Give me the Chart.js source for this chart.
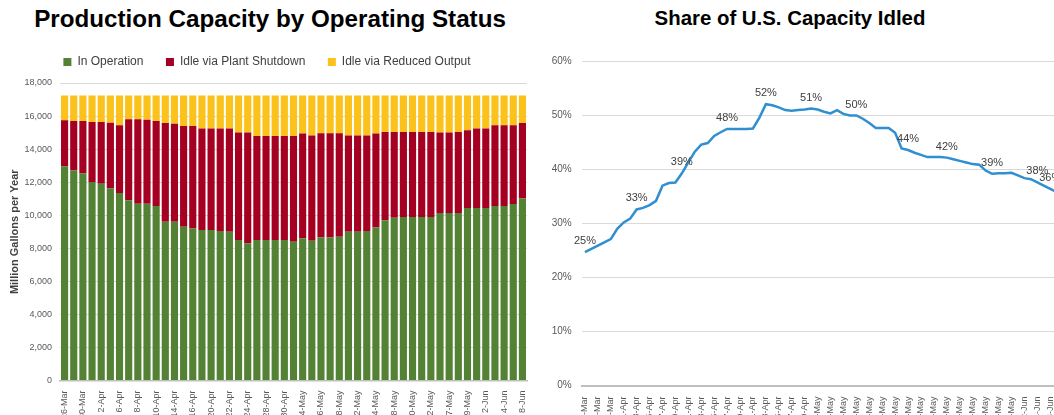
<!DOCTYPE html>
<html>
<head>
<meta charset="utf-8">
<script src="https://cdn.jsdelivr.net/npm/chart.js@4.4.1/dist/chart.umd.min.js"></script>
<style>
  html, body { margin: 0; padding: 0; background: #fff; overflow: hidden; width: 1054px; height: 415px; }
  .box { position: absolute; top: 0; height: 440px; }
  .title { position: absolute; font-family: "Liberation Sans", Arial, sans-serif; font-weight: bold; color: #000;
           white-space: nowrap; transform: translateX(-50%); }
</style>
</head>
<body>
<div class="title" style="left:270px;top:5px;font-size:24.2px">Production Capacity by Operating Status</div>
<div class="title" style="left:790px;top:7px;font-size:20.4px">Share of U.S. Capacity Idled</div>
<div class="box" style="left:0;width:540px"><canvas id="capacity"></canvas></div>
<div class="box" style="left:530px;width:547px"><canvas id="idled"></canvas></div>
<script>
// business days shown in the bar chart
const barDates = ['26-Mar','27-Mar','30-Mar','31-Mar','2-Apr','3-Apr','6-Apr','7-Apr','8-Apr','9-Apr','10-Apr',
  '13-Apr','14-Apr','15-Apr','16-Apr','17-Apr','20-Apr','21-Apr','22-Apr','23-Apr','24-Apr','27-Apr','28-Apr',
  '29-Apr','30-Apr','1-May','4-May','5-May','6-May','7-May','8-May','11-May','12-May','13-May','14-May','15-May',
  '18-May','19-May','20-May','21-May','22-May','26-May','27-May','28-May','29-May','1-Jun','2-Jun','3-Jun',
  '4-Jun','5-Jun','8-Jun'];

// million gallons per year
const inOperation = [12960,12720,12520,12010,11910,11610,11350,10900,10700,10700,10560,
  9600,9600,9300,9200,9100,9100,9050,9000,8500,8300,8500,8500,8500,8500,8400,8600,8450,8650,8650,8700,
  9000,9000,9050,9250,9700,9850,9900,9900,9900,9900,10140,10140,10140,10440,10440,10440,10560,10560,10680,11010];
const plantShutdown = [2780,2980,3180,3630,3730,3990,4090,4900,5100,5080,5140,
  5980,5940,6100,6200,6140,6140,6190,6240,6500,6700,6300,6300,6300,6300,6400,6340,6380,6310,6310,6260,
  5830,5830,5780,5690,5330,5180,5130,5130,5130,5130,4860,4860,4890,4700,4800,4800,4880,4880,4760,4570];
const reducedOutput = [1510,1550,1550,1610,1610,1650,1810,1450,1450,1470,1550,
  1670,1710,1850,1850,2010,2010,2010,2010,2250,2250,2450,2450,2450,2450,2450,2310,2420,2290,2290,2290,
  2420,2420,2420,2310,2220,2220,2220,2220,2220,2220,2250,2250,2220,2110,2010,2010,1810,1810,1810,1670];
const capTicks = [0,2000,4000,6000,8000,10000,12000,14000,16000,18000];

// calendar days in the line chart
const lineDates = ['26-Mar','27-Mar','28-Mar','29-Mar','30-Mar','31-Mar',
  '1-Apr','2-Apr','3-Apr','4-Apr','5-Apr','6-Apr','7-Apr','8-Apr','9-Apr','10-Apr','11-Apr','12-Apr','13-Apr',
  '14-Apr','15-Apr','16-Apr','17-Apr','18-Apr','19-Apr','20-Apr','21-Apr','22-Apr','23-Apr','24-Apr','25-Apr',
  '26-Apr','27-Apr','28-Apr','29-Apr','30-Apr',
  '1-May','2-May','3-May','4-May','5-May','6-May','7-May','8-May','9-May','10-May','11-May','12-May','13-May',
  '14-May','15-May','16-May','17-May','18-May','19-May','20-May','21-May','22-May','23-May','24-May','25-May',
  '26-May','27-May','28-May','29-May','30-May','31-May',
  '1-Jun','2-Jun','3-Jun','4-Jun','5-Jun','6-Jun','7-Jun','8-Jun'];

// percent of capacity idled
const idledShare = [24.7,25.3,25.9,26.5,27.1,29.0,30.2,30.9,32.6,32.9,33.4,34.2,37.0,37.5,37.6,39.3,41.3,43.3,
  44.6,44.9,46.2,46.9,47.5,47.5,47.5,47.5,47.6,49.6,52.1,51.9,51.5,51.0,50.9,51.0,51.1,51.3,51.1,50.7,50.4,
  51.0,50.3,50.0,50.0,49.4,48.6,47.7,47.7,47.7,46.8,43.9,43.6,43.1,42.7,42.3,42.3,42.3,42.2,41.9,41.6,41.3,
  41.0,40.9,39.8,39.2,39.3,39.3,39.4,38.9,38.4,38.2,37.6,37.0,36.4,35.8,35.3];
const labelledPoints = [0,8,15,22,28,35,42,50,56,63,70,72];
const shareTicks = [0,10,20,30,40,50,60];

Chart.defaults.font.family = '"Liberation Sans", Arial, sans-serif';
Chart.defaults.color = '#595959';

// legend needs a little extra room below it
const legendGap = {
  id: 'legendGap',
  beforeInit(chart) {
    const fit = chart.legend.fit;
    chart.legend.fit = function () { fit.call(this); this.height += 5; };
  }
};

new Chart(document.getElementById('capacity'), {
  type: 'bar',
  data: {
    labels: barDates,
    datasets: [
      { label: 'In Operation', data: inOperation, backgroundColor: '#548235' },
      { label: 'Idle via Plant Shutdown', data: plantShutdown, backgroundColor: '#a50021' },
      { label: 'Idle via Reduced Output', data: reducedOutput, backgroundColor: '#fbc21b' }
    ]
  },
  options: {
    responsive: true,
    maintainAspectRatio: false,
    animation: false,
    datasets: { bar: { barPercentage: 0.78, categoryPercentage: 1 } },
    layout: { padding: { top: 33.5, right: 13, left: 7, bottom: 0 } },
    plugins: {
      tooltip: { enabled: false },
      legend: {
        labels: { boxWidth: 8, boxHeight: 8, padding: 22.5, color: '#404040', font: { size: 12 } }
      }
    },
    scales: {
      x: {
        stacked: true,
        grid: { display: false },
        border: { color: '#bfbfbf', width: 1.5 },
        ticks: {
          autoSkip: false, minRotation: 90, maxRotation: 90, padding: 2, font: { size: 9 },
          callback: function (v, i) { return i % 2 === 0 ? this.getLabelForValue(v) : ''; }
        },
        afterFit(s) { s.height = 59.5; }
      },
      y: {
        stacked: true, min: 0, max: 18000,
        afterBuildTicks(s) { s.ticks = capTicks.map(v => ({ value: v })); },
        ticks: { font: { size: 9 }, padding: 8, callback: v => v.toLocaleString('en-US') },
        grid: { color: '#d9d9d9', drawTicks: false },
        border: { display: false },
        title: { display: true, text: 'Million Gallons per Year', color: '#404040',
                 font: { size: 11, weight: 'bold' }, padding: { top: 1, bottom: 0 } },
        afterFit(s) { s.width = 53; }
      }
    }
  },
  plugins: [legendGap]
});

const pointLabels = {
  id: 'pointLabels',
  afterDatasetsDraw(chart) {
    const meta = chart.getDatasetMeta(0);
    const ctx = chart.ctx;
    ctx.save();
    ctx.font = '11px "Liberation Sans", Arial, sans-serif';
    ctx.fillStyle = '#404040';
    ctx.textAlign = 'center';
    ctx.textBaseline = 'middle';
    labelledPoints.forEach(i => {
      const p = meta.data[i];
      ctx.fillText(Math.round(idledShare[i]) + '%', p.x, p.y - 11);
    });
    ctx.restore();
  }
};

new Chart(document.getElementById('idled'), {
  type: 'line',
  data: {
    labels: lineDates,
    datasets: [{ data: idledShare, borderColor: '#2f8fd1', borderWidth: 2.5, pointRadius: 0, tension: 0, fill: false }]
  },
  options: {
    responsive: true,
    maintainAspectRatio: false,
    animation: false,
    layout: { padding: { top: 61.5, right: 4, left: 0, bottom: 0 } },
    plugins: { legend: { display: false }, tooltip: { enabled: false } },
    scales: {
      x: {
        offset: true,
        grid: { display: false },
        border: { color: '#bfbfbf', width: 2 },
        ticks: {
          autoSkip: false, minRotation: 90, maxRotation: 90, padding: 3, font: { size: 9 },
          callback: function (v, i) { return i % 2 === 0 ? this.getLabelForValue(v) : ''; }
        },
        afterFit(s) { s.height = 54.5; }
      },
      y: {
        min: 0, max: 60,
        afterBuildTicks(s) { s.ticks = shareTicks.map(v => ({ value: v })); },
        ticks: { font: { size: 10 }, padding: 10, callback: v => v + '%' },
        grid: { color: '#d9d9d9', drawTicks: false },
        border: { display: false },
        afterFit(s) { s.width = 51.7; }
      }
    }
  },
  plugins: [pointLabels]
});
</script>
</body>
</html>
